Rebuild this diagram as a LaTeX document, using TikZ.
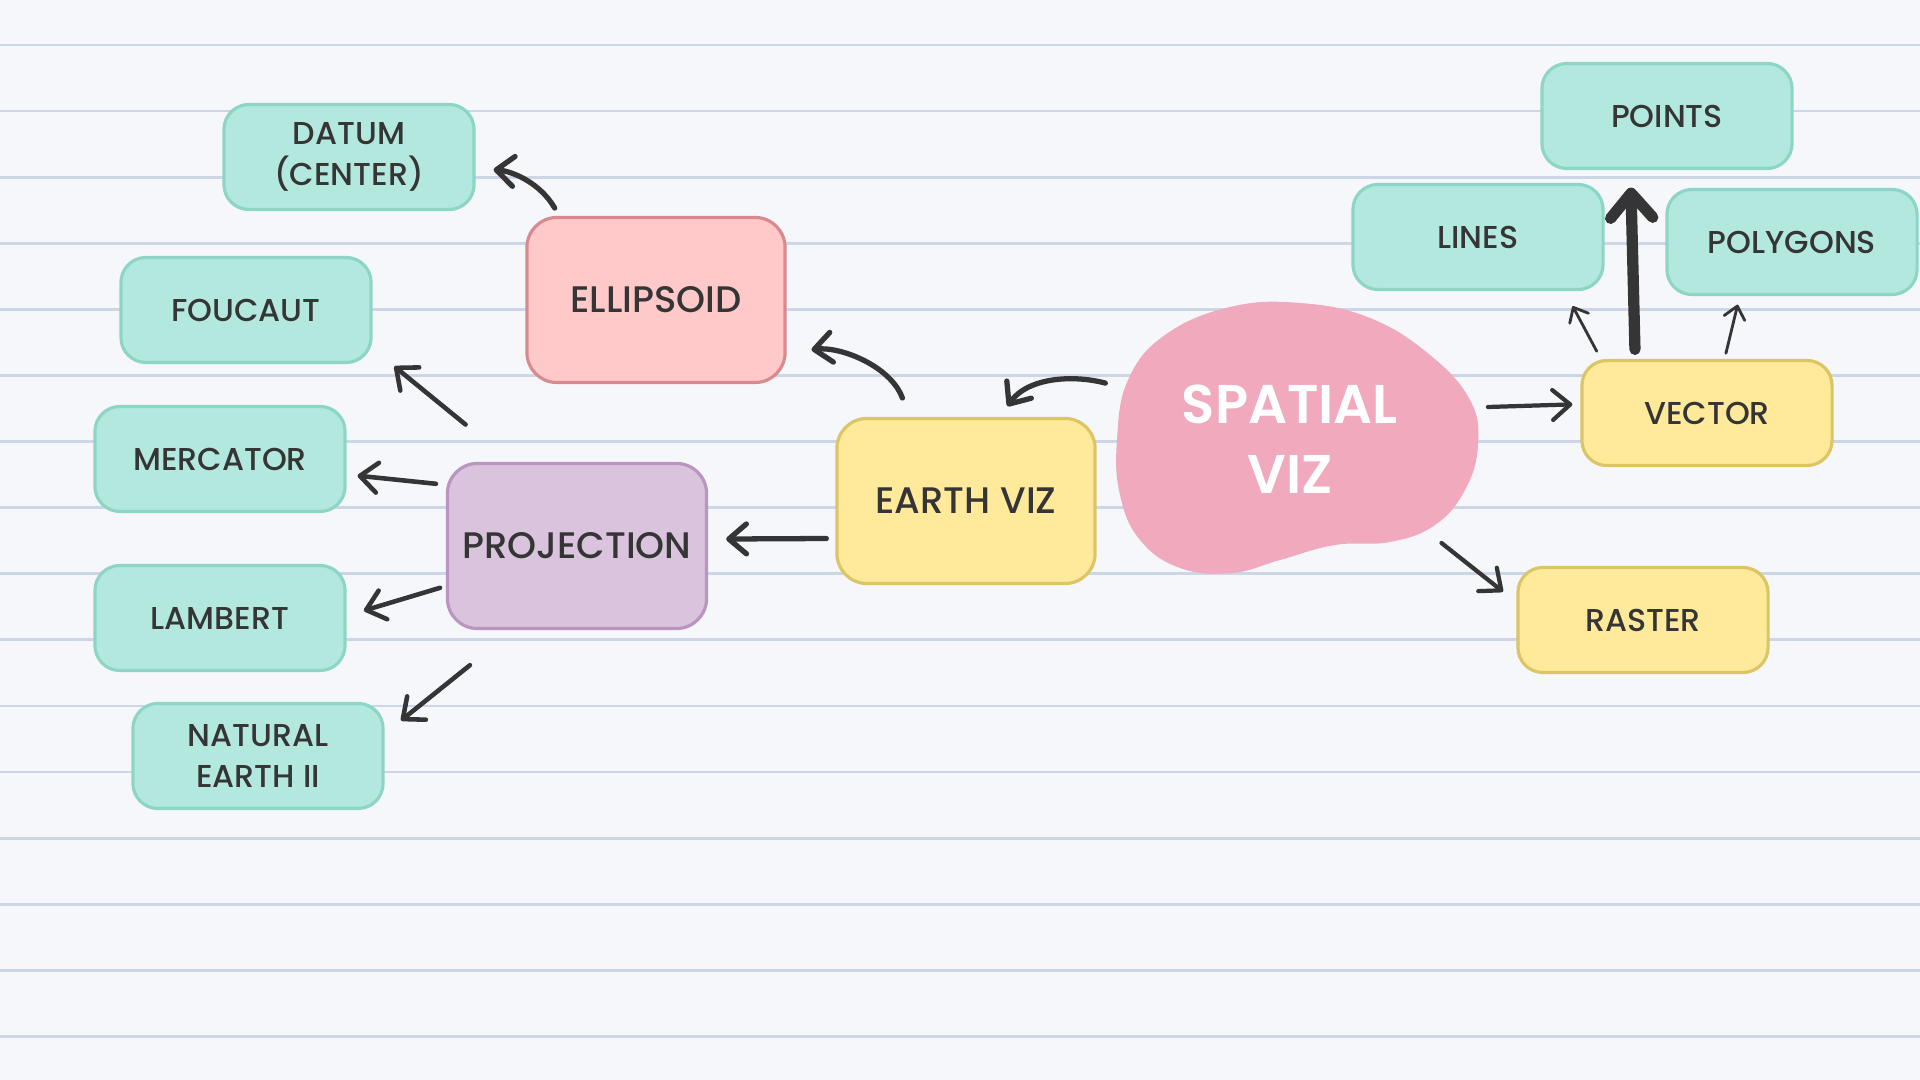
\documentclass[tikz,border=0pt]{standalone}
\usepackage{fontspec}
\setmainfont{Poppins}[UprightFont=* Medium, BoldFont=* SemiBold]
\usepackage{tikz}
\usetikzlibrary{arrows.meta}
\usetikzlibrary{shapes.geometric}
\definecolor{paper}{HTML}{F5F7FA}
\definecolor{rule}{HTML}{CCD6E6}
\definecolor{ink}{HTML}{353535}
\definecolor{tealfill}{HTML}{B3E8DE}
\definecolor{tealline}{HTML}{8DD6C6}
\definecolor{pinkfill}{HTML}{FFC8C9}
\definecolor{pinkline}{HTML}{D98A90}
\definecolor{yellowfill}{HTML}{FFE99B}
\definecolor{yellowline}{HTML}{DCC565}
\definecolor{purplefill}{HTML}{D9C3DD}
\definecolor{purpleline}{HTML}{B995C0}
\definecolor{blob}{HTML}{F1AABD}
\tikzstyle{every node}+=[inner sep=0pt]
\tikzstyle{block} = [rectangle, draw, line width=0.9pt, text=ink, align=center, font=\fontsize{9}{11.5}\selectfont, rounded corners=0.25cm, minimum width=2.5cm, minimum height=1.05cm]
\tikzstyle{leaf} = [block, fill=tealfill, draw=tealline]
\tikzstyle{sub} = [block, fill=yellowfill, draw=yellowline]
\tikzstyle{hub} = [block, font=\fontsize{10.5}{13}\selectfont, rounded corners=0.3cm, minimum width=2.58cm, minimum height=1.65cm]
\tikzstyle{link} = [draw=ink, line width=1.5pt, line cap=round, -{Straight Barb[round,length=5pt,width=8.5pt]}]
\tikzstyle{thinlink} = [link, line width=0.8pt, -{Straight Barb[round,length=3.5pt,width=6pt]}]
\tikzstyle{boldlink} = [link, line width=3.2pt, -{Straight Barb[round,length=7pt,width=12pt]}]

\begin{document}
\begin{tikzpicture}[x=0.01cm, y=0.01cm]
            % Paper
            \useasboundingbox (0,0) rectangle (1920,-1080);
            \fill[paper] (0,0) rectangle (1920,-1080);
            \foreach \k in {0,...,15}
              \draw[rule, line width=0.8pt] (0,{-45-66.1*\k}) -- (1920,{-45-66.1*\k});
            \fill[blob] plot[smooth cycle, tension=0.7] coordinates {(1117,-440) (1128,-380) (1165,-335) (1230,-307) (1300,-303) (1370,-318) (1430,-355) (1470,-400) (1478,-445) (1465,-490) (1435,-525) (1390,-542) (1335,-545) (1280,-560) (1232,-573) (1180,-568) (1140,-540) (1120,-495)};
            % Place nodes
            \node [ellipse, minimum width=3.64cm, minimum height=2.72cm, text=white, align=center, font=\fontsize{15.5}{20}\selectfont\bfseries] (spatial) at (1290,-439) {SPATIAL\\VIZ};
            \node [hub, fill=yellowfill, draw=yellowline] (earth) at (966,-501) {EARTH VIZ};
            \node [hub, fill=pinkfill, draw=pinkline] (ellipsoid) at (656,-300) {ELLIPSOID};
            \node [hub, fill=purplefill, draw=purpleline, minimum width=2.59cm] (projection) at (577,-546) {PROJECTION};
            \node [leaf] (datum) at (349,-157) {DATUM\\(CENTER)};
            \node [leaf] (foucaut) at (246,-310) {FOUCAUT};
            \node [leaf] (mercator) at (220,-459) {MERCATOR};
            \node [leaf] (lambert) at (220,-618) {LAMBERT};
            \node [leaf] (natural) at (258,-756) {NATURAL\\EARTH II};
            \node [sub] (vector) at (1707,-413) {VECTOR};
            \node [sub] (raster) at (1643,-620) {RASTER};
            \node [leaf] (points) at (1667,-116) {POINTS};
            \node [leaf] (lines) at (1478,-237) {LINES};
            \node [leaf] (polygons) at (1792,-242) {POLYGONS};
            % Draw edges
            \path [link, shorten <=0.16cm, shorten >=0.13cm] (spatial.163) to[out=165, in=55] (earth.68);
            \path [link, shorten <=0.2cm, shorten >=0.25cm] (earth.124) to[out=110, in=7] (ellipsoid.-22);
            \path [link, shorten <=0.09cm, shorten >=0.18cm] (ellipsoid.139) to[out=120, in=-5] (datum.-5);
            \path [link, shorten <=0.09cm, shorten >=0.18cm] (earth.196.5) -- (projection.3);
            \path [link, line width=1.3pt, shorten <=0.59cm, shorten >=0.28cm] (projection.128) -- (foucaut.-17);
            \path [link, line width=1.3pt, shorten <=0.1cm, shorten >=0.11cm] (projection.155.6) -- (mercator.-7);
            \path [link, line width=1.3pt, shorten <=0.06cm, shorten >=0.18cm] (projection.197.8) -- (lambert.1);
            \path [link, line width=1.3pt, shorten <=0.56cm, shorten >=0.21cm] (projection.233.1) -- (natural.10);
            \path [link, line width=1.2pt, shorten <=0.2cm, shorten >=0.08cm] (spatial.10.6) -- (vector.176.4);
            \path [link, line width=1.2pt, shorten <=0.2cm, shorten >=0.17cm] (spatial.-34.5) -- (raster.172.7);
            \path [boldlink, shorten <=0.095cm, shorten >=0.175cm] (vector.143) -- (points.236.8);
            \path [thinlink, shorten <=0.086cm, shorten >=0.17cm] (vector.153.6) -- (lines.-32.4);
            \path [thinlink, shorten <=0.057cm, shorten >=0.088cm] (vector.72.6) -- (polygons.226);
          \end{tikzpicture}
\end{document}
